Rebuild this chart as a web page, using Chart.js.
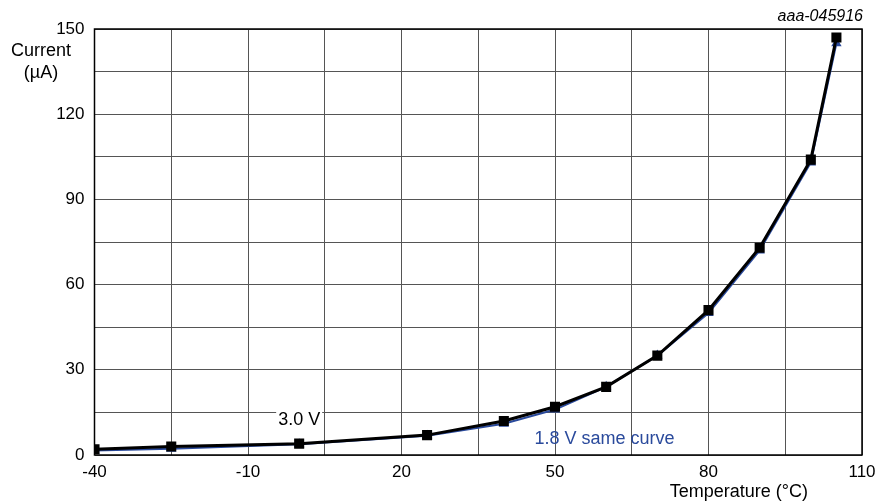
<!DOCTYPE html>
<html>
<head>
<meta charset="utf-8">
<script src="https://cdn.jsdelivr.net/npm/chart.js@4"></script>
<style>
  html, body { margin: 0; padding: 0; background: #fff; }
  #wrap { width: 880px; height: 504px; }
</style>
</head>
<body>
<div id="wrap"><canvas id="myChart" width="880" height="504"></canvas></div>
<script>
// Temperature points (°C)
const temps = [-40, -25, 0, 25, 40, 50, 60, 70, 80, 90, 100, 105];
// Supply current (µA) at 3.0 V and 1.8 V
const current30 = [2, 3, 4, 7, 12, 17, 24, 35, 51, 73, 104, 147];
const current18 = [1.6, 2.2, 3.8, 6.8, 11, 16, 24, 35, 50, 72, 103, 145];
const xLabels = [-40, -10, 20, 50, 80, 110];
const yLabels = [0, 30, 60, 90, 120, 150];

const blue = '#2a4a9c';
const font = 'Liberation Sans, Arial, sans-serif';

// Extra texts: border, labels, notes
const textPlugin = {
    id: 'texts',
    afterDraw(chart) {
        const c = chart.ctx;
        const a = chart.chartArea;
        const xs = chart.scales.x;
        const ys = chart.scales.y;
        c.save();
        c.strokeStyle = '#000';
        c.lineWidth = 1.5;
        c.strokeRect(a.left, a.top, a.right - a.left, a.bottom - a.top);

        c.font = '18px ' + font;
        c.fillStyle = '#000';
        c.textAlign = 'center';
        c.textBaseline = 'middle';
        c.fillText('Current', 41, 51);
        c.fillText('(µA)', 41, 73);

        c.textAlign = 'right';
        c.fillText('Temperature (°C)', 808, 492);

        c.font = 'italic 16px ' + font;
        c.fillText('aaa-045916', 863, 17);

        // 3.0 V label with white box
        c.font = '18px ' + font;
        c.textAlign = 'center';
        const lx = xs.getPixelForValue(0);
        const ly = ys.getPixelForValue(12.4);
        const w = c.measureText('3.0 V').width;
        c.fillStyle = '#fff';
        c.fillRect(lx - w / 2 - 2, ly - 9, w + 4, 18);
        c.fillStyle = '#000';
        c.fillText('3.0 V', lx, ly);

        c.textAlign = 'left';
        c.fillStyle = blue;
        c.fillText('1.8 V same curve', xs.getPixelForValue(46), ys.getPixelForValue(5.6));
        c.restore();
    }
};

var ctx = document.getElementById('myChart').getContext('2d');
var myChart = new Chart(ctx, {
    type: 'line',
    data: {
        datasets: [
            {
                label: '1.8 V',
                data: temps.map((t, i) => ({ x: t, y: current18[i] })),
                borderColor: blue,
                backgroundColor: blue,
                borderWidth: 2,
                pointStyle: 'triangle',
                pointRadius: 4,
                tension: 0,
                order: 2
            },
            {
                label: '3.0 V',
                data: temps.map((t, i) => ({ x: t, y: current30[i] })),
                borderColor: '#000',
                backgroundColor: '#000',
                borderWidth: 3,
                pointStyle: 'rect',
                pointRadius: 5,
                tension: 0,
                order: 1
            }
        ]
    },
    options: {
        responsive: false,
        animation: false,
        layout: { padding: { left: 0, top: 29, right: 18, bottom: 0 } },
        plugins: { legend: { display: false }, tooltip: { enabled: false } },
        scales: {
            x: {
                type: 'linear',
                min: -40,
                max: 110,
                afterFit(scale) {
                    scale.height = 49;
                    scale.paddingLeft = 0;
                    scale.paddingRight = 0;
                },
                grid: { color: '#555', lineWidth: 1, drawTicks: false },
                border: { display: false },
                ticks: {
                    stepSize: 15,
                    padding: 7,
                    maxRotation: 0,
                    autoSkip: false,
                    color: '#000',
                    font: { family: font, size: 17 },
                    callback: v => xLabels.includes(v) ? String(v) : ''
                }
            },
            y: {
                min: 0,
                max: 150,
                afterFit(scale) { scale.width = 94.5; },
                grid: { color: '#555', lineWidth: 1, drawTicks: false },
                border: { display: false },
                ticks: {
                    stepSize: 15,
                    padding: 10,
                    autoSkip: false,
                    color: '#000',
                    font: { family: font, size: 17 },
                    callback: v => yLabels.includes(v) ? String(v) : ''
                }
            }
        }
    },
    plugins: [textPlugin]
});
</script>
</body>
</html>
